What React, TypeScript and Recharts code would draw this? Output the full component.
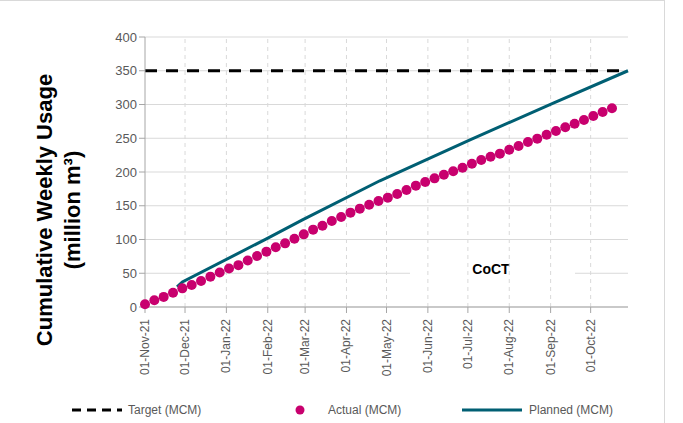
import React from 'react';
import { ComposedChart, Line, XAxis, YAxis, CartesianGrid, ReferenceLine } from 'recharts';

// days since 01-Nov-21
const monthTicks = [0, 30, 61, 92, 120, 151, 181, 212, 242, 273, 304, 334];
const monthLabels = ['01-Nov-21', '01-Dec-21', '01-Jan-22', '01-Feb-22', '01-Mar-22', '01-Apr-22', '01-May-22', '01-Jun-22', '01-Jul-22', '01-Aug-22', '01-Sep-22', '01-Oct-22'];

const actual = [
  4, 10, 15, 21, 27.6, 32.6, 38.5, 45, 51, 57, 62, 69, 75.5, 82, 88.4, 94.3, 101, 107.6, 114.6, 120.5,
  127.4, 133.3, 139.8, 145.7, 151.6, 157, 162, 167.4, 173.3, 179.8, 185.2, 190.6, 196, 201, 206.4, 212.3,
  217.8, 222.7, 227.2, 233, 238.5, 244.4, 249.4, 255.3, 260.7, 266.2, 271.6, 277, 283, 289, 294.4,
];
const plannedDays = [24, 28, 91, 118, 176, 244, 306, 362];
const planned = [30, 37, 101, 129, 187, 248, 302, 350];
const target = 350;

const rows: { day: number; actual?: number; planned?: number }[] = [];
actual.forEach((v, i) => rows.push({ day: i * 7, actual: v }));
plannedDays.forEach((d, i) => rows.push({ day: d, planned: planned[i] }));
rows.sort((a, b) => a.day - b.day);

const font = 'Arial, "Liberation Sans", sans-serif';

const XTick = (props: any) => {
  const { x, y, payload } = props;
  const label = monthLabels[monthTicks.indexOf(payload.value)];
  return (
    <text x={x + 4} y={y + 4} transform={`rotate(-90 ${x + 4} ${y + 4})`} textAnchor="end" fontSize={12} fill="#595959" fontFamily={font}>
      {label}
    </text>
  );
};

export default function App() {
  return (
    <div style={{ position: 'absolute', left: 0, top: 0, width: 683, height: 423, background: '#fff', fontFamily: font }}>
      <div style={{ position: 'absolute', left: 0, top: 0, width: 665, height: 423, borderTop: '1px solid #d9d9d9', borderRight: '1px solid #d9d9d9', boxSizing: 'border-box' }} />
      <ComposedChart width={683} height={423} data={rows} margin={{ top: 37, right: 55, left: 0, bottom: 36 }}>
        <CartesianGrid stroke="#d9d9d9" vertical={false} />
        <XAxis
          dataKey="day"
          type="number"
          domain={[0, 360]}
          ticks={monthTicks}
          interval={0}
          height={80}
          tick={<XTick />}
          stroke="#a6a6a6"
          tickLine={{ stroke: '#a6a6a6' }}
        />
        <YAxis
          width={145}
          domain={[0, 400]}
          ticks={[0, 50, 100, 150, 200, 250, 300, 350, 400]}
          tick={{ fontSize: 13, fill: '#595959', fontFamily: font }}
          stroke="#a6a6a6"
          tickLine={{ stroke: '#a6a6a6' }}
        />
        {monthTicks.slice(1).map((d) => (
          <ReferenceLine key={d} x={d} stroke="#d9d9d9" strokeDasharray="4 4" />
        ))}
        <ReferenceLine y={target} stroke="#000" strokeWidth={3} strokeDasharray="12 9" />
        <Line dataKey="actual" stroke="none" isAnimationActive={false} connectNulls
          dot={{ r: 5, fill: '#c8006e', stroke: 'none' }} legendType="circle" />
        <Line dataKey="planned" stroke="#005f73" strokeWidth={3} dot={false} connectNulls isAnimationActive={false} />
        <text x={52} y={210} transform="rotate(-90 52 210)" textAnchor="middle" fontSize={22} fontWeight="bold" fill="#000" fontFamily={font}>Cumulative Weekly Usage</text>
        <text x={80} y={210} transform="rotate(-90 80 210)" textAnchor="middle" fontSize={22} fontWeight="bold" fill="#000" fontFamily={font}>(million m³)</text>
        <rect x={410} y={253} width={165} height={32} fill="#fff" />
        <text x={491} y={274} textAnchor="middle" fontSize={14} fontWeight="bold" fill="#000" fontFamily={font}>CoCT</text>
      </ComposedChart>
      <svg style={{ position: 'absolute', left: 0, top: 398 }} width={683} height={24}>
        <line x1={72} x2={122} y1={12} y2={12} stroke="#000" strokeWidth={3} strokeDasharray="9 6" />
        <text x={128} y={16} fontSize={12} fill="#595959" fontFamily={font}>Target (MCM)</text>
        <circle cx={300} cy={12} r={4.5} fill="#c8006e" />
        <text x={328} y={16} fontSize={12} fill="#595959" fontFamily={font}>Actual (MCM)</text>
        <line x1={462} x2={522} y1={12} y2={12} stroke="#005f73" strokeWidth={3} />
        <text x={529} y={16} fontSize={12} fill="#595959" fontFamily={font}>Planned (MCM)</text>
      </svg>
    </div>
  );
}
